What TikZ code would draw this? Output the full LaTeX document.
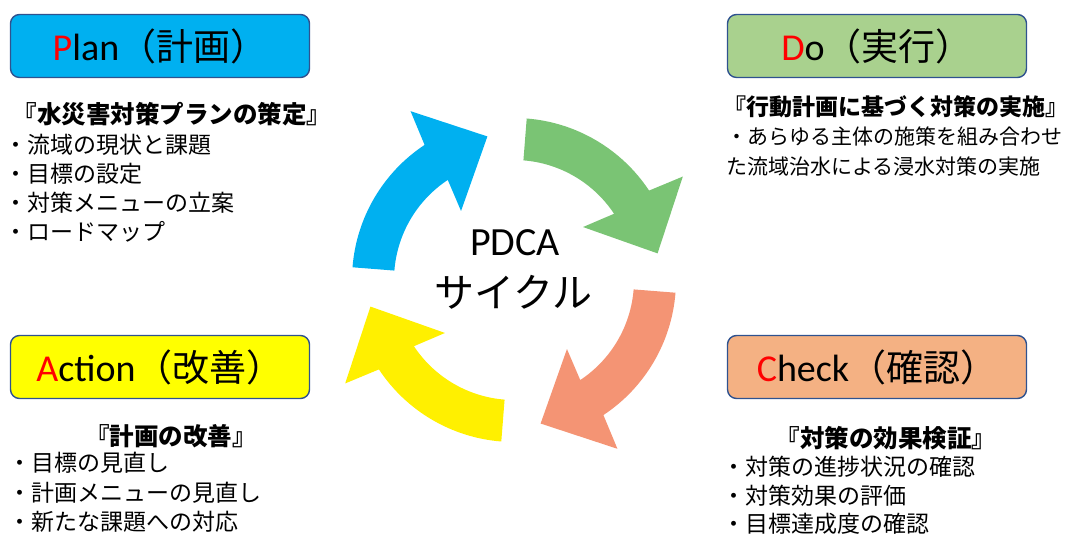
\documentclass[tikz,border=0pt]{standalone}
\usepackage{fontspec}
\setmainfont{Carlito}
\newfontfamily\jp{Noto Sans CJK JP}
\usetikzlibrary{positioning}
\definecolor{planblue}{RGB}{0,176,240}
\definecolor{dogreen}{RGB}{169,209,142}
\definecolor{checkorange}{RGB}{244,177,131}
\definecolor{actyellow}{RGB}{255,255,0}
\definecolor{ringgreen}{RGB}{122,196,116}
\definecolor{ringorange}{RGB}{244,148,116}
\definecolor{ringyellow}{RGB}{255,240,0}
\definecolor{edgeblue}{RGB}{47,82,143}

\begin{document}
\begin{tikzpicture}[
  x=1pt, y=1pt,
  phase/.style={rectangle, rounded corners=9pt, draw=edgeblue, line width=1.4pt,
                minimum width=299pt, minimum height=63pt, inner sep=0pt,
                font=\fontsize{38}{42}\selectfont},
  head/.style={inner sep=0pt, font=\jp\bfseries\fontsize{24.5}{28}\selectfont},
  items/.style={inner sep=0pt, align=left, anchor=north west,
                font=\jp\fontsize{23}{29}\selectfont}
]
  \useasboundingbox (0,0) rectangle (1070,534);

  % the four phases
  \node[phase, fill=planblue] (plan) at (160,488) {\textcolor{red}{P}lan{\jp\fontsize{37}{42}\selectfont（計画）}};
  \node[phase, fill=dogreen] (do) at (877,488) {\textcolor{red}{D}o{\jp\fontsize{37}{42}\selectfont（実行）}};
  \node[phase, fill=actyellow] (act) at (160,167) {\textcolor{red}{A}ction{\jp\fontsize{37}{42}\selectfont（改善）}};
  \node[phase, fill=checkorange] (check) at (877,167) {\textcolor{red}{C}heck{\jp\fontsize{37}{42}\selectfont（確認）}};

  % texts under the boxes
  \node[head] (planhead) at (172,420) {『水災害対策プランの策定』};
  \node[items] (planlist) at (4,400) {・流域の現状と課題\\・目標の設定\\・対策メニューの立案\\・ロードマップ};
  \node[head, font=\jp\bfseries\fontsize{23}{28}\selectfont] (dohead) at (896,427) {『行動計画に基づく対策の実施』};
  \node[items, font=\jp\fontsize{21}{30}\selectfont] (dolist) at (726,407)
    {・あらゆる主体の施策を組み合わせ\\た流域治水による浸水対策の実施};
  \node[head] (acthead) at (171,98) {『計画の改善』};
  \node[items, font=\jp\fontsize{23}{29.5}\selectfont] (actlist) at (8,82)
    {・目標の見直し\\・計画メニューの見直し\\・新たな課題への対応};
  \node[head] (checkhead) at (886,96) {『対策の効果検証』};
  \node[items, font=\jp\fontsize{23}{28.5}\selectfont] (checklist) at (722,78)
    {・対策の進捗状況の確認\\・対策効果の評価\\・目標達成度の確認};

  % cycle arrows
  \begin{scope}[shift={(514,254)}]
    \foreach \a/\c in {175.5/planblue, 85.5/ringgreen, -4.5/ringorange, -94.5/ringyellow}
      \fill[\c] (\a:162pt) arc[start angle=\a, end angle=\a-52, radius=162pt]
        -- ({\a-54}:198pt) -- ({\a-75}:146pt) -- ({\a-48}:87pt)
        -- ({\a-52}:120pt) arc[start angle=\a-52, end angle=\a, radius=120pt] -- cycle;
  \end{scope}
  \node[font=\fontsize{40}{44}\selectfont] (pdca) at (515,291) {PDCA};
  \node[font=\jp\fontsize{40}{44}\selectfont] (cycle) at (513,242) {サイクル};
\end{tikzpicture}
\end{document}
